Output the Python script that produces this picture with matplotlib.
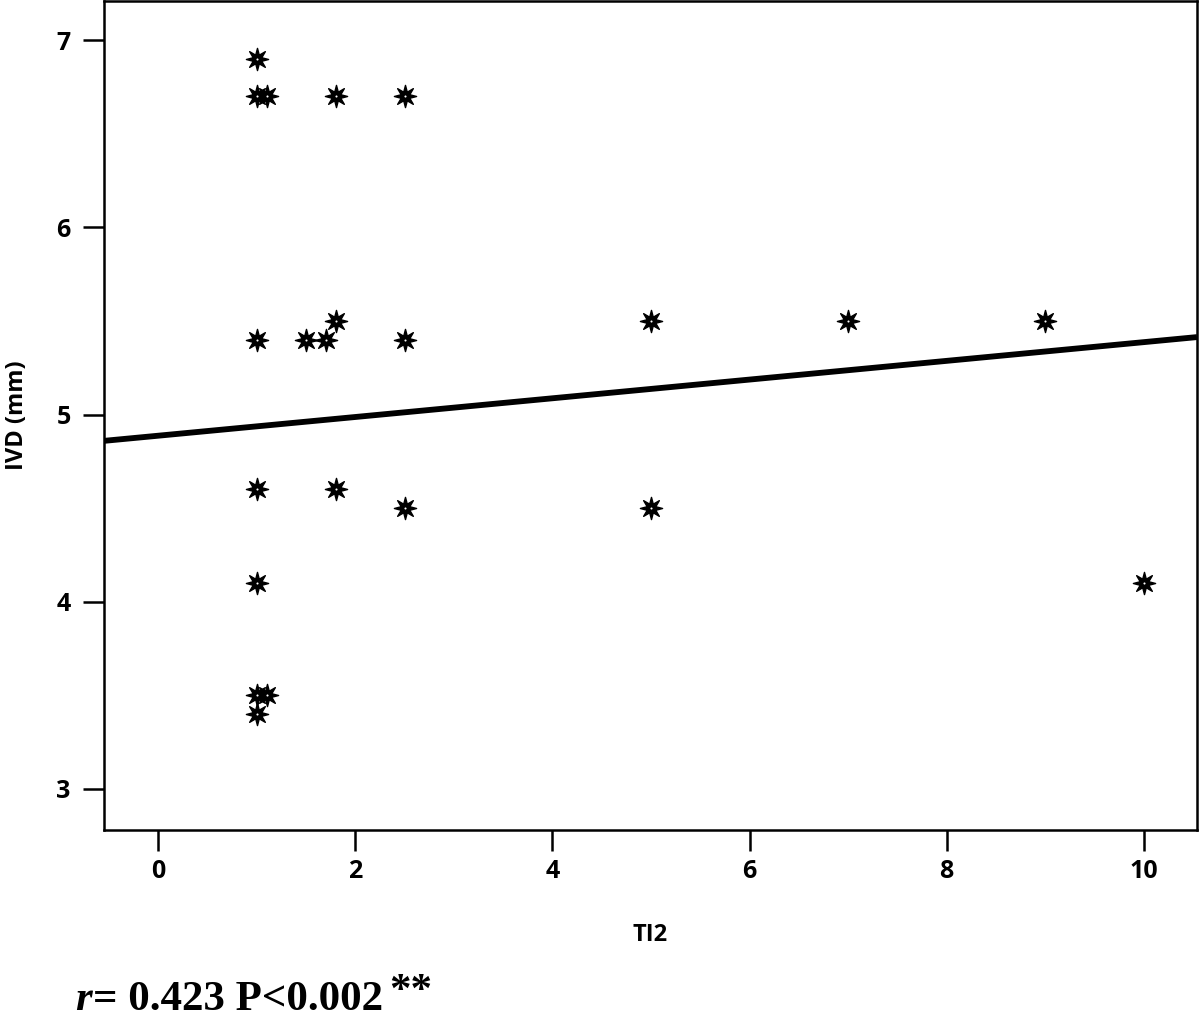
import numpy as np
import matplotlib
matplotlib.use("Agg")
import matplotlib.pyplot as plt
from matplotlib.path import Path

# TI2 vs IVD (mm) values
ti2 = [1.0, 1.0, 1.1, 1.8, 2.5,
       1.0, 1.5, 1.7, 1.8, 2.5,
       5.0, 7.0, 9.0,
       1.0, 1.8, 2.5, 5.0,
       1.0, 10.0,
       1.0, 1.1, 1.0]
ivd = [6.9, 6.7, 6.7, 6.7, 6.7,
       5.4, 5.4, 5.4, 5.5, 5.4,
       5.5, 5.5, 5.5,
       4.6, 4.6, 4.5, 4.5,
       4.1, 4.1,
       3.5, 3.5, 3.4]

# fitted line as drawn
fit_intercept = 4.887
fit_slope = 0.0500

x_ticks = [0, 2, 4, 6, 8, 10]
y_ticks = [3, 4, 5, 6, 7]
x_lim = (-0.55, 10.54)
y_lim = (2.78, 7.21)

stat_r = "0.423"
stat_p = "0.002"

# 8-pointed star marker
n_pts = 8
ang = np.linspace(0, 2 * np.pi, 2 * n_pts, endpoint=False) + np.pi / 2
rad = np.where(np.arange(2 * n_pts) % 2 == 0, 1.0, 0.42)
verts = np.column_stack([rad * np.cos(ang), rad * np.sin(ang)])
verts = np.vstack([verts, verts[:1]])
codes = [Path.MOVETO] + [Path.LINETO] * (2 * n_pts - 1) + [Path.CLOSEPOLY]
star = Path(verts, codes)

fig = plt.figure(figsize=(12, 10.22), dpi=100)
ax = fig.add_axes([104 / 1200, 1 - 830 / 1022, (1197 - 104) / 1200, 829 / 1022])

tick_font = dict(family="Open Sans", weight="bold", size=18)

xs = np.array(x_lim)
ax.plot(xs, fit_intercept + fit_slope * xs, color="black", lw=4.2,
        solid_capstyle="butt", zorder=2)

ax.plot(ti2, ivd, linestyle="none", marker=star, markersize=16,
        color="black", markeredgewidth=1.0, zorder=3)
ax.plot(ti2, ivd, linestyle="none", marker="o", markersize=1.5,
        color="white", markeredgewidth=0, zorder=4)

ax.set_xlim(*x_lim)
ax.set_ylim(*y_lim)
ax.set_xticks(x_ticks)
ax.set_yticks(y_ticks)
ax.set_xticklabels([str(t) for t in x_ticks], fontdict=tick_font)
ax.set_yticklabels([str(t) for t in y_ticks], fontdict=tick_font)
ax.tick_params(direction="out", length=15, width=1.8, pad=6)
ax.tick_params(axis="y", pad=9)
for s in ax.spines.values():
    s.set_linewidth(1.8)

ax.set_xlabel("TI2", family="Open Sans", weight="bold", size=17, labelpad=28)
ax.set_ylabel("IVD (mm)", family="Open Sans", weight="bold", size=17, labelpad=20)

# stats line under the chart, built from pieces
fig.canvas.draw()
rend = fig.canvas.get_renderer()
x0 = 75 / 1200
y0 = 1 - 1010 / 1022
t1 = fig.text(x0, y0, "r", family="Liberation Serif", style="italic",
              weight="bold", size=31, va="baseline")
w1 = t1.get_window_extent(rend).width / 1200
t2 = fig.text(x0 + w1 + 0.001, y0, f"= {stat_r} P<{stat_p}",
              family="Liberation Serif", weight="bold", size=31, va="baseline")
w2 = t2.get_window_extent(rend).width / 1200
fig.text(x0 + w1 + w2 + 0.006, y0 + 0.008, "**", family="Liberation Serif",
         weight="bold", size=31, va="baseline")

fig.savefig("out.png", dpi=100)
